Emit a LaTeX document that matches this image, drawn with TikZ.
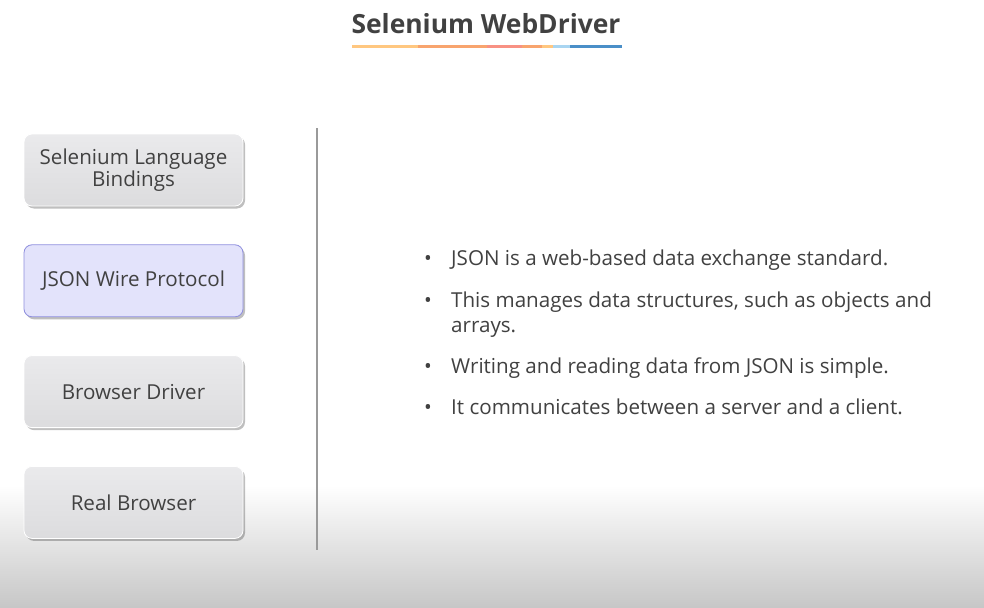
\documentclass[tikz,border=0pt]{standalone}
\usepackage{fontspec}
\setmainfont{Open Sans}
\usetikzlibrary{positioning,shadows}

\definecolor{inkgray}{HTML}{414141}
\definecolor{boxtop}{HTML}{EAEAEC}
\definecolor{boxbot}{HTML}{DCDCDE}
\definecolor{wirefill}{HTML}{E3E3FB}
\definecolor{wireline}{HTML}{8E8EDE}
\definecolor{rulegray}{HTML}{9A9A9A}
\definecolor{ulA}{HTML}{FFC780}
\definecolor{ulB}{HTML}{F8A46E}
\definecolor{ulC}{HTML}{F89183}
\definecolor{ulD}{HTML}{A9D5F1}
\definecolor{ulE}{HTML}{4A8FC8}

\tikzset{
  layer/.style={draw=white, line width=0.8pt, rounded corners=8pt,
    minimum width=219pt, minimum height=72pt, inner sep=2pt,
    top color=boxtop, bottom color=boxbot, text=inkgray, align=center,
    font=\fontsize{20.6}{24}\selectfont,
    drop shadow={shadow xshift=2pt, shadow yshift=-2.5pt, fill=black, opacity=0.25}},
  active/.style={layer, draw=wireline, top color=wirefill, bottom color=wirefill},
  point/.style={anchor=base west, inner sep=0pt, text=inkgray, align=left,
    font=\fontsize{20.6}{25}\selectfont},
}

\begin{document}
\begin{tikzpicture}[x=1pt,y=-1pt, node distance=38pt]
  \useasboundingbox (0,0) rectangle (984,607);
  \fill[white] (0,0) rectangle (984,607);
  \fill[top color=white, bottom color=black!22] (0,485) rectangle (984,607);

  \node[font=\fontsize{26.4}{30}\selectfont\bfseries, text=inkgray, anchor=base] (title) at (486,34) {Selenium WebDriver};
  \foreach \a/\b/\c in {352/418/ulA, 418/487/ulB, 487/522/ulC, 522/542/ulB, 542/553/ulA, 553/570/ulD, 570/622/ulE}
    \draw[line width=3pt, \c] (\a,47) -- (\b,47);

  \node[layer]                (bind)    at (133.5,170) {Selenium Language\\[-2pt]Bindings};
  \node[active, below=of bind] (wire)    {JSON Wire Protocol};
  \node[layer, below=of wire]  (driver)  {Browser Driver};
  \node[layer, below=of driver] (browser) {Real Browser};

  \coordinate (top) at (317,128);
  \coordinate (bot) at (317,550);
  \draw[rulegray, line width=1.2pt] (top) -- (bot);

  \node[point] (d1) at (424,265) {•};
  \node[point] (p1) at (451,265) {JSON is a web-based data exchange standard.};
  \node[point] (d2) at (424,307) {•};
  \node[point] (p2) at (451,332) {This manages data structures, such as objects and\\arrays.};
  \node[point] (d3) at (424,373) {•};
  \node[point] (p3) at (451,373) {Writing and reading data from JSON is simple.};
  \node[point] (d4) at (424,414) {•};
  \node[point] (p4) at (451,414) {It communicates between a server and a client.};
\end{tikzpicture}
\end{document}
